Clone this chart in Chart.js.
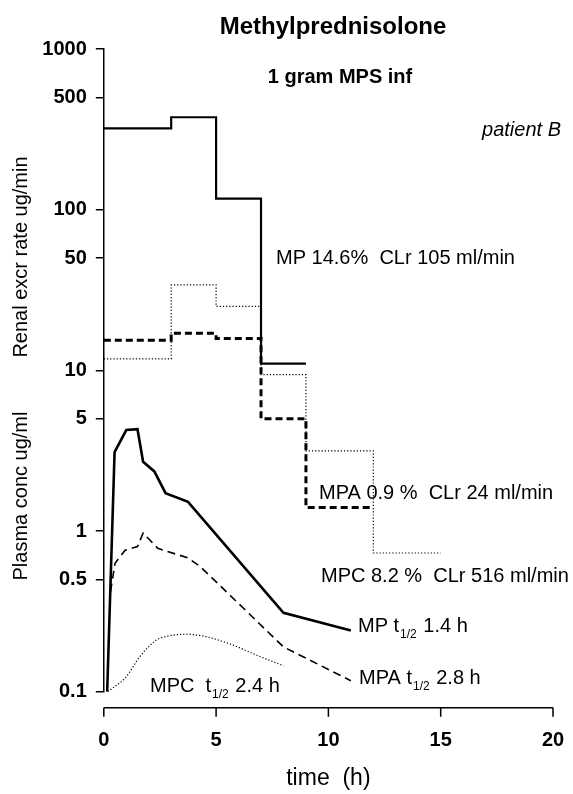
<!DOCTYPE html>
<html>
<head>
<meta charset="utf-8">
<title>Methylprednisolone</title>
<script src="https://cdn.jsdelivr.net/npm/chart.js@4.4.0/dist/chart.umd.min.js"></script>
<style>
  html, body { margin: 0; padding: 0; background: #fff; }
  #wrap { width: 573px; height: 794px; position: relative; }
</style>
</head>
<body>
<div id="wrap"><canvas id="chart"></canvas></div>
<script>
// Renal excretion rate (ug/min): collection interval edges (h) and rate in each interval
const mpRenalEdges = [0, 3, 5, 7, 9];
const mpRenalRate = [321, 376, 117, 11];
const mpaRenalEdges = [0, 3, 5, 7, 9, 12];
const mpaRenalRate = [15.4, 17, 15.8, 5.0, 1.4];
const mpcRenalEdges = [0, 3, 5, 7, 9, 12, 15];
const mpcRenalRate = [11.8, 34, 25, 9.4, 3.15, 0.73];

// Plasma concentration (ug/ml)
const mpPlasmaTime = [0.15, 0.48, 1.0, 1.5, 1.75, 2.25, 2.75, 3.75, 8, 11];
const mpPlasmaConc = [0.1, 3.1, 4.25, 4.3, 2.7, 2.35, 1.72, 1.52, 0.31, 0.24];
const mpaPlasmaTime = [0.3, 0.5, 0.95, 1.5, 1.75, 2.05, 2.4, 3.75, 4.3, 8, 11];
const mpaPlasmaConc = [0.42, 0.63, 0.76, 0.8, 0.97, 0.88, 0.78, 0.68, 0.6, 0.19, 0.117];
const mpcPlasmaTime = [0.18, 1.0, 1.6, 2.35, 2.95, 3.65, 4.55, 5.75, 6.8, 8];
const mpcPlasmaConc = [0.1, 0.124, 0.165, 0.21, 0.223, 0.228, 0.22, 0.195, 0.169, 0.145];

// Axis ticks
const xTicks = [0, 5, 10, 15, 20];
const yTicks = [0.1, 0.5, 1, 5, 10, 50, 100, 500, 1000];

// Turn interval rates into a step outline
function stepPoints(edges, rates) {
    const pts = [];
    rates.forEach((r, i) => {
        pts.push({ x: edges[i], y: r });
        pts.push({ x: edges[i + 1], y: r });
    });
    return pts;
}

function linePoints(times, values) {
    return times.map((t, i) => ({ x: t, y: values[i] }));
}

function drawRich(ctx, parts, x, y, size) {
    // parts: plain strings, or {sub: '...'} for subscripts
    ctx.textAlign = 'left';
    ctx.textBaseline = 'middle';
    let cx = x;
    parts.forEach(p => {
        if (typeof p === 'string') {
            ctx.font = size + 'px "Liberation Sans", Arial, sans-serif';
            ctx.fillText(p, cx, y);
            cx += ctx.measureText(p).width;
        } else {
            ctx.font = Math.round(size * 0.62) + 'px "Liberation Sans", Arial, sans-serif';
            ctx.fillText(p.sub, cx + 1, y + size * 0.42);
            cx += ctx.measureText(p.sub).width + 2;
        }
    });
}

// Title, annotations, y titles and the detached x axis line
const decorPlugin = {
    id: 'decor',
    afterDraw(chart) {
        const ctx = chart.ctx;
        const xs = chart.scales.x;
        const area = chart.chartArea;
        ctx.save();
        ctx.fillStyle = '#000';
        ctx.strokeStyle = '#000';

        // x axis drawn a little below the plot
        const axisY = area.bottom + 16;
        ctx.lineWidth = 1.5;
        ctx.beginPath();
        ctx.moveTo(xs.getPixelForValue(xTicks[0]), axisY);
        ctx.lineTo(xs.getPixelForValue(xTicks[xTicks.length - 1]), axisY);
        xTicks.forEach(t => {
            const px = xs.getPixelForValue(t);
            ctx.moveTo(px, axisY);
            ctx.lineTo(px, axisY + 9);
        });
        ctx.stroke();

        ctx.textBaseline = 'middle';
        ctx.textAlign = 'center';
        ctx.font = 'bold 24px "Liberation Sans", Arial, sans-serif';
        ctx.fillText('Methylprednisolone', 333, 27);
        ctx.font = 'bold 20px "Liberation Sans", Arial, sans-serif';
        ctx.fillText('1 gram MPS inf', 340, 77);
        ctx.font = '23px "Liberation Sans", Arial, sans-serif';
        ctx.fillText('time  (h)', (xs.left + xs.right) / 2, 779);

        ctx.textAlign = 'right';
        ctx.font = 'italic 20px "Liberation Sans", Arial, sans-serif';
        ctx.fillText('patient B', 561, 130);

        ctx.textAlign = 'left';
        ctx.font = '20px "Liberation Sans", Arial, sans-serif';
        ctx.fillText('MP 14.6%  CLr 105 ml/min', 276, 258);
        ctx.fillText('MPA 0.9 %  CLr 24 ml/min', 319, 493);
        ctx.fillText('MPC 8.2 %  CLr 516 ml/min', 321, 576);

        drawRich(ctx, ['MP t', { sub: '1/2' }, ' 1.4 h'], 358, 626, 20);
        drawRich(ctx, ['MPA t', { sub: '1/2' }, ' 2.8 h'], 359, 678, 20);
        drawRich(ctx, ['MPC  t', { sub: '1/2' }, ' 2.4 h'], 150, 686, 20);

        // two y axis titles, rotated
        ctx.font = '20px "Liberation Sans", Arial, sans-serif';
        ctx.textAlign = 'center';
        ctx.translate(21, 257);
        ctx.rotate(-Math.PI / 2);
        ctx.fillText('Renal excr rate ug/min', 0, 0);
        ctx.rotate(Math.PI / 2);
        ctx.translate(0, 496 - 257);
        ctx.rotate(-Math.PI / 2);
        ctx.fillText('Plasma conc ug/ml', 0, 0);
        ctx.restore();
    }
};

const ctx = document.getElementById('chart').getContext('2d');
const chart = new Chart(ctx, {
    type: 'line',
    data: {
        datasets: [
            {
                label: 'MP renal',
                data: stepPoints(mpRenalEdges, mpRenalRate),
                borderColor: '#000',
                borderWidth: 2.2
            },
            {
                label: 'MPA renal',
                data: stepPoints(mpaRenalEdges, mpaRenalRate),
                borderColor: '#000',
                borderWidth: 3,
                borderDash: [7, 4]
            },
            {
                label: 'MPC renal',
                data: stepPoints(mpcRenalEdges, mpcRenalRate),
                borderColor: '#000',
                borderWidth: 1.2,
                borderDash: [1.2, 2]
            },
            {
                label: 'MP plasma',
                data: linePoints(mpPlasmaTime, mpPlasmaConc),
                borderColor: '#000',
                borderWidth: 2.6
            },
            {
                label: 'MPA plasma',
                data: linePoints(mpaPlasmaTime, mpaPlasmaConc),
                borderColor: '#000',
                borderWidth: 1.6,
                borderDash: [8, 5]
            },
            {
                label: 'MPC plasma',
                data: linePoints(mpcPlasmaTime, mpcPlasmaConc),
                borderColor: '#000',
                borderWidth: 1.2,
                borderDash: [1.2, 2],
                tension: 0.4,
                cubicInterpolationMode: 'monotone'
            }
        ]
    },
    options: {
        responsive: true,
        maintainAspectRatio: false,
        animation: false,
        devicePixelRatio: 1,
        layout: { padding: { top: 49, right: 20, bottom: 0, left: 0 } },
        elements: { point: { radius: 0 }, line: { fill: false } },
        plugins: { legend: { display: false }, tooltip: { enabled: false } },
        scales: {
            x: {
                type: 'linear',
                min: 0,
                max: 20,
                afterBuildTicks: s => { s.ticks = xTicks.map(v => ({ value: v })); },
                afterFit: s => {
                    s.height = 794 - 691.7;
                    // the label padding below should not eat horizontal room
                    s.paddingLeft = 0;
                    s.paddingRight = 0;
                },
                grid: { display: false, drawTicks: false },
                border: { display: false },
                ticks: {
                    color: '#000',
                    padding: 37,
                    font: { family: '"Liberation Sans", Arial, sans-serif', size: 20, weight: 'bold' }
                }
            },
            y: {
                type: 'logarithmic',
                min: 0.1,
                max: 1000,
                afterBuildTicks: s => { s.ticks = yTicks.map(v => ({ value: v })); },
                afterFit: s => { s.width = 103.8; },
                grid: { display: true, drawOnChartArea: false, drawTicks: true, tickLength: 8, color: '#000', lineWidth: 1.5 },
                border: { display: true, color: '#000', width: 1.5 },
                ticks: {
                    color: '#000',
                    padding: 9,
                    autoSkip: false,
                    callback: v => String(v),
                    font: { family: '"Liberation Sans", Arial, sans-serif', size: 20, weight: 'bold' }
                }
            }
        }
    },
    plugins: [decorPlugin]
});
</script>
</body>
</html>
